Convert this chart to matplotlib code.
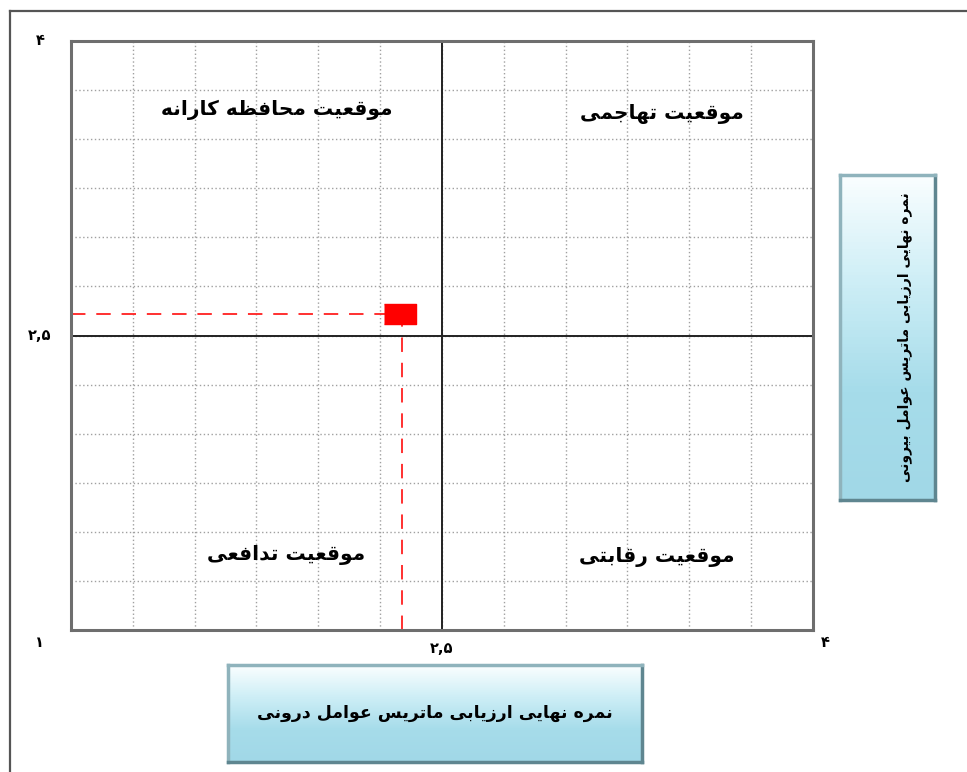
import matplotlib
matplotlib.use("Agg")
import matplotlib.pyplot as plt
import numpy as np
from matplotlib.transforms import blended_transform_factory

# data
point_x = [2.33]
point_y = [2.61]
x_min, x_max = 1, 4
y_min, y_max = 1, 4
mid = 2.5
grid_step = 0.25

x_tick_pos = [2.5, 4]
x_tick_labels = ["۲,۵", "۴"]
y_tick_pos = [2.5, 4]
y_tick_labels = ["۲,۵", "۴"]
origin_label = "۱"

quad_labels = ["موقعیت محافظه کارانه", "موقعیت تهاجمی", "موقعیت تدافعی", "موقعیت رقابتی"]
quad_x = [1.83, 3.39, 1.87, 3.37]
quad_y = [3.65, 3.63, 1.38, 1.37]

x_title = "نمره نهایی ارزیابی ماتریس عوامل درونی"
y_title = "نمره نهایی ارزیابی ماتریس عوامل بیرونی"

# small persian shaper, matplotlib has no arabic text layout
# letter: (isolated, final, initial, medial); two forms -> joins only to the right
forms = {
    "ا": (0xFE8D, 0xFE8E), "ب": (0xFE8F, 0xFE90, 0xFE91, 0xFE92),
    "ت": (0xFE95, 0xFE96, 0xFE97, 0xFE98), "ج": (0xFE9D, 0xFE9E, 0xFE9F, 0xFEA0),
    "ح": (0xFEA1, 0xFEA2, 0xFEA3, 0xFEA4), "د": (0xFEA9, 0xFEAA),
    "ر": (0xFEAD, 0xFEAE), "ز": (0xFEAF, 0xFEB0),
    "س": (0xFEB1, 0xFEB2, 0xFEB3, 0xFEB4), "ظ": (0xFEC5, 0xFEC6, 0xFEC7, 0xFEC8),
    "ع": (0xFEC9, 0xFECA, 0xFECB, 0xFECC), "ف": (0xFED1, 0xFED2, 0xFED3, 0xFED4),
    "ق": (0xFED5, 0xFED6, 0xFED7, 0xFED8), "ل": (0xFEDD, 0xFEDE, 0xFEDF, 0xFEE0),
    "م": (0xFEE1, 0xFEE2, 0xFEE3, 0xFEE4), "ن": (0xFEE5, 0xFEE6, 0xFEE7, 0xFEE8),
    "ه": (0xFEE9, 0xFEEA, 0xFEEB, 0xFEEC), "و": (0xFEED, 0xFEEE),
    "ی": (0xFBFC, 0xFBFD, 0xFBFE, 0xFBFF), "ک": (0xFB8E, 0xFB8F, 0xFB90, 0xFB91),
}

def shape(s):
    out = []
    for i, ch in enumerate(s):
        if ch not in forms:
            out.append(ch)
            continue
        f = forms[ch]
        prev = s[i - 1] if i > 0 else ""
        nxt = s[i + 1] if i + 1 < len(s) else ""
        join_prev = prev in forms and len(forms[prev]) == 4
        join_next = len(f) == 4 and nxt in forms
        if join_prev and join_next:
            c = f[3]
        elif join_prev:
            c = f[1]
        elif join_next:
            c = f[2]
        else:
            c = f[0]
        out.append(chr(c))
    return "".join(out[::-1])

plt.rcParams['font.family'] = ['DejaVu Sans']

fig = plt.figure(figsize=(9.67, 7.72), dpi=100)

# outer frame
fig.add_artist(plt.Line2D([0.0105, 0.0105], [0, 0.986], color='#555555', lw=1.6))
fig.add_artist(plt.Line2D([0.0105, 1.0], [0.986, 0.986], color='#555555', lw=1.6))

ax = fig.add_axes([0.0734, 0.1839, 0.7673, 0.7630])
ax.set_xlim(x_min, x_max)
ax.set_ylim(y_min, y_max)
grid = np.arange(x_min, x_max + grid_step / 2, grid_step)
ax.set_xticks(grid)
ax.set_yticks(grid)
ax.grid(True, color='#a0a0a0', linestyle=(0, (1, 1.8)), lw=1.0)
ax.tick_params(length=0, labelbottom=False, labelleft=False)
for sp in ax.spines.values():
    sp.set_color('#6e6e6e')
    sp.set_linewidth(2.2)

ax.axvline(mid, color='#222222', lw=1.4)
ax.axhline(mid, color='#222222', lw=1.4)

# dashed guides to the point
ax.plot([x_min, point_x[0]], [point_y[0], point_y[0]], color='#ff2020', lw=1.3,
        dashes=(8, 6))
ax.plot([point_x[0] + 0.01, point_x[0] + 0.01], [y_min, point_y[0]], color='#ff2020',
        lw=1.3, dashes=(8, 6))
rect = [(-1.65, -1), (1.65, -1), (1.65, 1), (-1.65, 1)]
ax.scatter(point_x, point_y, marker=rect, s=560, color='#ff0000', zorder=5)

for lab, qx, qy in zip(quad_labels, quad_x, quad_y):
    ax.text(qx, qy, shape(lab), ha='center', va='center', fontsize=14.5,
            fontweight='bold', color='black')

# tick labels sit off the usual places
ty = blended_transform_factory(ax.transAxes, ax.transData)
tx = blended_transform_factory(ax.transData, ax.transAxes)
for p, lab in zip(y_tick_pos, y_tick_labels):
    ax.text(-0.042, p, lab, transform=ty, ha='center', va='center', fontsize=10.5,
            fontweight='bold')
ax.text(2.5, -0.031, x_tick_labels[0], transform=tx, ha='center', va='center',
        fontsize=10.5, fontweight='bold')
ax.text(4.05, -0.022, x_tick_labels[1], transform=tx, ha='center', va='center',
        fontsize=10.5, fontweight='bold')
ax.text(-0.042, -0.022, origin_label, transform=ax.transAxes, ha='center', va='center',
        fontsize=10.5, fontweight='bold')

# gradient title boxes
grad = np.linspace(0, 1, 100).reshape(-1, 1)
cmap = matplotlib.colors.LinearSegmentedColormap.from_list(
    'box', ['#fafeff', '#cdeef6', '#a6dcea', '#a1d8e7'])

def title_box(rect_pos, text, rot, tx_pos, size):
    bx = fig.add_axes(rect_pos)
    bx.imshow(grad, aspect='auto', cmap=cmap, extent=[0, 1, 0, 1], origin='upper')
    bx.set_xticks([])
    bx.set_yticks([])
    for side, sp in bx.spines.items():
        sp.set_linewidth(2.5)
        sp.set_color('#8fb3bc' if side in ('left', 'top') else '#5f8690')
    bx.text(tx_pos, 0.5, shape(text), ha='center', va='center', rotation=rot,
            fontsize=size, fontweight='bold', transform=bx.transAxes)

title_box([228 / 967, 1 - 762 / 772, 414 / 967, 97 / 772], x_title, 0, 0.5, 12.5)
title_box([840 / 967, 1 - 500 / 772, 95 / 967, 325 / 772], y_title, 90, 0.68, 10)

fig.savefig('out.png', dpi=100)
